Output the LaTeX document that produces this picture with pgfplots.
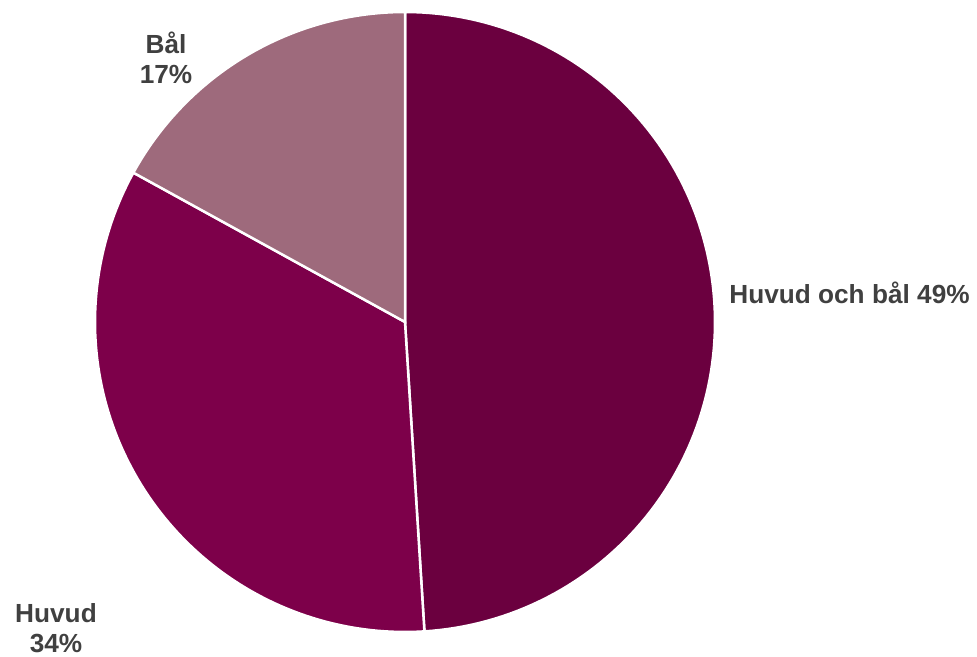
\documentclass[border=0pt]{standalone}
\usepackage{pgfplots}
\pgfplotsset{compat=1.18}
\usepackage{fontspec}
\setmainfont{Liberation Sans}
\definecolor{cA}{HTML}{6B003F}
\definecolor{cB}{HTML}{7D004A}
\definecolor{cC}{HTML}{9E6A7C}
\definecolor{txt}{HTML}{404040}
% data (percent)
\def\vA{49}% Huvud och bål
\def\vB{34}% Huvud
\def\vC{17}% Bål
\pgfmathsetmacro{\aA}{90}
\pgfmathsetmacro{\aB}{90-3.6*\vA}
\pgfmathsetmacro{\aC}{\aB-3.6*\vB}
\pgfmathsetmacro{\aD}{\aC-3.6*\vC}
\def\cx{405}\def\cy{335}\def\rr{310}
\begin{document}
\begin{tikzpicture}
\begin{axis}[
  x=1bp, y=1bp, xmin=0, xmax=977, ymin=0, ymax=657,
  hide axis, clip=false, scale only axis,
]
\addplot[fill=cA, draw=white, line width=2.5bp, domain=\aB:\aA, samples=120]
  ({\cx+\rr*cos(x)},{\cy+\rr*sin(x)}) -- (axis cs:\cx,\cy) -- cycle;
\addplot[fill=cB, draw=white, line width=2.5bp, domain=\aC:\aB, samples=100]
  ({\cx+\rr*cos(x)},{\cy+\rr*sin(x)}) -- (axis cs:\cx,\cy) -- cycle;
\addplot[fill=cC, draw=white, line width=2.5bp, domain=\aD:\aC, samples=60]
  ({\cx+\rr*cos(x)},{\cy+\rr*sin(x)}) -- (axis cs:\cx,\cy) -- cycle;
\begin{scope}[every node/.style={text=txt, font=\fontsize{26.3}{30}\selectfont\bfseries, align=center, inner sep=0pt}]
\node at (axis cs:166,599.5) {Bål\\17\%};
\node at (axis cs:56,29) {Huvud\\34\%};
\node at (axis cs:849.5,364) {Huvud och bål 49\%};
\end{scope}
\end{axis}
\pgfresetboundingbox
\path (current axis.south west) rectangle (current axis.north east);
\end{tikzpicture}
\end{document}
